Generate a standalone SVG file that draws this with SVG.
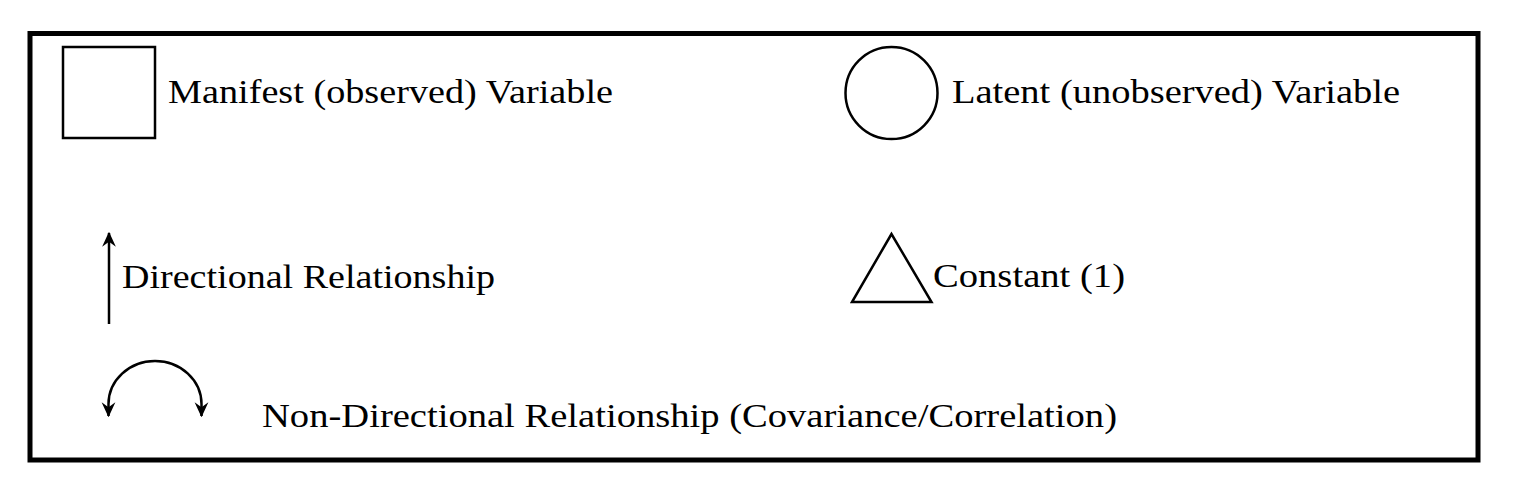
<svg xmlns="http://www.w3.org/2000/svg" width="1514" height="490" viewBox="0 0 1514 490">
<defs>
<style>
.shape{fill:none;stroke:#000;stroke-width:2.5}
.lbl{font-family:"Liberation Serif","DejaVu Serif",serif;font-size:34px;fill:#000}
.conn{fill:none;stroke:#000;stroke-width:2.5}
</style>
<marker id="ah" viewBox="0 0 12 12" refX="11" refY="6" markerWidth="15" markerHeight="15" orient="auto" markerUnits="userSpaceOnUse">
<path d="M0,0.5 L12,6 L0,11.5 L4,6 Z" fill="#000"/>
</marker>
</defs>
<rect x="0" y="0" width="1514" height="490" fill="#fff"/>
<rect id="frame" x="30" y="33.5" width="1448" height="426.5" fill="none" stroke="#000" stroke-width="5"/>
<g id="manifest">
<rect class="shape" x="63" y="47" width="92" height="91"/>
<text class="lbl" x="168" y="102.5" textLength="445" lengthAdjust="spacingAndGlyphs">Manifest (observed) Variable</text>
</g>
<g id="latent">
<circle class="shape" cx="891.5" cy="93" r="46"/>
<text class="lbl" x="952" y="102.5" textLength="448" lengthAdjust="spacingAndGlyphs">Latent (unobserved) Variable</text>
</g>
<g id="constant">
<polygon class="shape" points="891.5,234 852,302 931.5,302"/>
<text class="lbl" x="933" y="287" textLength="192" lengthAdjust="spacingAndGlyphs">Constant (1)</text>
</g>
<g id="directional">
<text class="lbl" x="122" y="288" textLength="373" lengthAdjust="spacingAndGlyphs">Directional Relationship</text>
</g>
<g id="nondirectional">
<text class="lbl" x="262" y="426.5" textLength="855" lengthAdjust="spacingAndGlyphs">Non-Directional Relationship (Covariance/Correlation)</text>
</g>
<g id="connectors">
<line class="conn" x1="109" y1="324" x2="109" y2="233" marker-end="url(#ah)"/>
<path class="conn" d="M108.5,404 A46.5,43 0 0 1 201.5,404 L201.5,416" marker-end="url(#ah)"/>
<path class="conn" d="M108.5,404 L108.5,416" marker-end="url(#ah)"/>
</g>
</svg>
